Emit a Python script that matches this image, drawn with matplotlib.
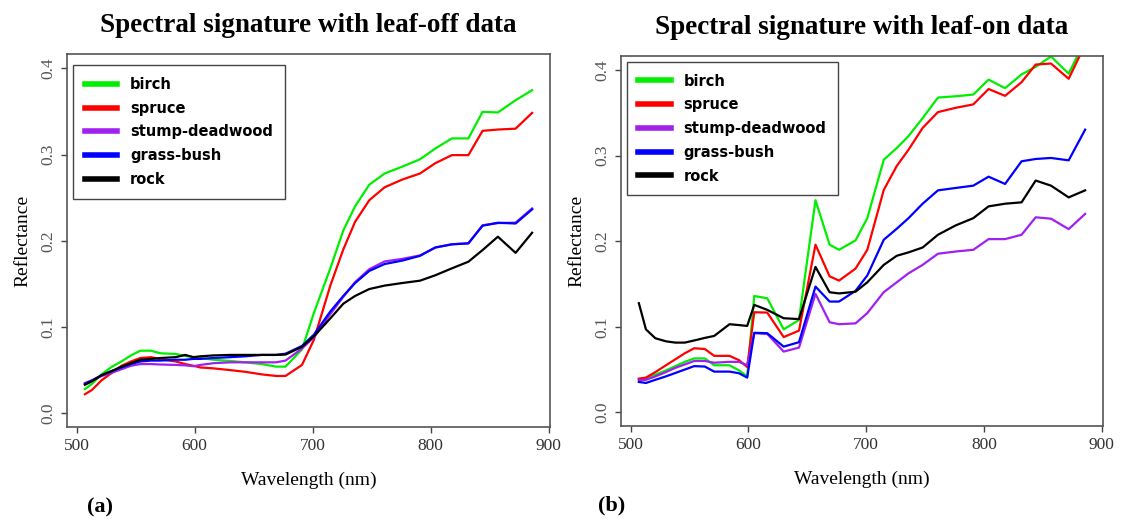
import matplotlib
matplotlib.use("Agg")
import matplotlib.pyplot as plt
import numpy as np

# band centres (nm), shared by both panels
wavelength = [507, 513, 521, 530, 538, 546, 554, 563, 571, 584, 592, 599, 605, 616,
              630, 643, 657, 669, 677, 691, 701, 715, 726, 736, 748, 761, 776, 791,
              804, 818, 832, 844, 857, 872, 886]

classes = ["birch", "spruce", "stump-deadwood", "grass-bush", "rock"]
colors = ["#00ee00", "#ff0000", "#a020f0", "#0000ff", "#000000"]

# (a) leaf-off
off_birch = [0.028, 0.034, 0.045, 0.054, 0.060, 0.067, 0.0725, 0.0725, 0.0695, 0.0687, 0.0664, 0.065,
             0.064, 0.062, 0.0606, 0.059, 0.057, 0.054, 0.054, 0.074, 0.116, 0.168, 0.212, 0.240,
             0.265, 0.278, 0.286, 0.2945, 0.307, 0.3187, 0.3187, 0.3495, 0.3488, 0.363, 0.3746]
off_spruce = [0.022, 0.027, 0.038, 0.047, 0.055, 0.060, 0.064, 0.065, 0.0626, 0.060, 0.057, 0.055,
              0.053, 0.052, 0.050, 0.048, 0.045, 0.0432, 0.0432, 0.056, 0.085, 0.148, 0.190, 0.222,
              0.247, 0.262, 0.271, 0.278, 0.290, 0.2993, 0.2993, 0.3275, 0.329, 0.330, 0.3483]
off_stump = [0.035, 0.038, 0.043, 0.047, 0.051, 0.055, 0.057, 0.057, 0.0565, 0.056, 0.0555, 0.0545,
             0.056, 0.058, 0.059, 0.059, 0.059, 0.059, 0.061, 0.075, 0.088, 0.115, 0.135, 0.152,
             0.167, 0.176, 0.179, 0.183, 0.192, 0.196, 0.197, 0.218, 0.2205, 0.221, 0.2375]
off_grass = [0.034, 0.038, 0.044, 0.049, 0.053, 0.057, 0.060, 0.061, 0.061, 0.062, 0.062, 0.063,
             0.063, 0.064, 0.065, 0.066, 0.0676, 0.0676, 0.069, 0.078, 0.091, 0.118, 0.136, 0.151,
             0.165, 0.173, 0.177, 0.1825, 0.1923, 0.1958, 0.197, 0.2174, 0.2209, 0.220, 0.2364]
off_rock = [0.033, 0.037, 0.044, 0.049, 0.054, 0.058, 0.062, 0.063, 0.064, 0.065, 0.0676, 0.065,
            0.066, 0.067, 0.0676, 0.0676, 0.0676, 0.0676, 0.068, 0.077, 0.089, 0.110, 0.127, 0.136,
            0.144, 0.148, 0.151, 0.1537, 0.160, 0.168, 0.1757, 0.1892, 0.2047, 0.186, 0.2093]

# (b) leaf-on
on_birch = [0.0386, 0.040, 0.044, 0.049, 0.054, 0.059, 0.063, 0.063, 0.055, 0.055, 0.049, 0.042,
            0.136, 0.1334, 0.097, 0.108, 0.248, 0.196, 0.190, 0.201, 0.227, 0.2954, 0.309, 0.323,
            0.344, 0.368, 0.3695, 0.3715, 0.389, 0.379, 0.395, 0.404, 0.416, 0.396, 0.435]
on_spruce = [0.0394, 0.0406, 0.047, 0.055, 0.062, 0.069, 0.0749, 0.074, 0.066, 0.066, 0.061, 0.053,
             0.117, 0.1166, 0.088, 0.0955, 0.196, 0.159, 0.154, 0.168, 0.190, 0.260, 0.288, 0.307,
             0.3325, 0.351, 0.356, 0.360, 0.378, 0.370, 0.386, 0.4066, 0.4078, 0.390, 0.43]
on_stump = [0.0375, 0.038, 0.042, 0.047, 0.052, 0.056, 0.060, 0.060, 0.058, 0.059, 0.059, 0.055,
            0.0925, 0.0917, 0.071, 0.0757, 0.1385, 0.1053, 0.103, 0.104, 0.116, 0.1405, 0.152, 0.1625,
            0.1724, 0.1854, 0.188, 0.190, 0.2025, 0.2025, 0.2076, 0.228, 0.2264, 0.2142, 0.232]
on_grass = [0.0355, 0.0343, 0.038, 0.042, 0.046, 0.050, 0.054, 0.0535, 0.0476, 0.0476, 0.0457, 0.0406,
            0.093, 0.0925, 0.0768, 0.082, 0.147, 0.1295, 0.1295, 0.142, 0.160, 0.2018, 0.2146, 0.227,
            0.2439, 0.2595, 0.2623, 0.265, 0.2755, 0.267, 0.2935, 0.2962, 0.2974, 0.2946, 0.3305]
on_rock = [0.1276, 0.097, 0.0866, 0.083, 0.0815, 0.0815, 0.084, 0.087, 0.0893, 0.103, 0.102, 0.101,
           0.1256, 0.1198, 0.110, 0.109, 0.170, 0.1404, 0.139, 0.141, 0.152, 0.1724, 0.183, 0.187,
           0.1927, 0.2076, 0.2185, 0.227, 0.2408, 0.2439, 0.2455, 0.271, 0.265, 0.2513, 0.2595]

xticks = [500, 600, 700, 800, 900]
yticks = [0.0, 0.1, 0.2, 0.3, 0.4]

serif = ["Liberation Serif", "DejaVu Serif"]


def draw_panel(ax, series, title, tag, tag_x, leg_anchor):
    for vals, name, c in zip(series, classes, colors):
        ax.plot(wavelength, vals, color=c, lw=1.6, label=name)
    # R style 4% padding
    xr = max(wavelength) - min(wavelength)
    ax.set_xlim(min(wavelength) - 0.04 * xr, max(wavelength) + 0.04 * xr)
    ax.set_ylim(-0.016, 0.4166)
    ax.set_xticks(xticks)
    ax.set_yticks(yticks)
    ax.set_xticklabels([str(t) for t in xticks], family=serif, fontsize=12.5, color="#333333")
    ax.set_yticklabels(["%.1f" % t for t in yticks], family=serif, fontsize=12.5,
                       color="#555555", rotation=90, va="center")
    ax.tick_params(axis="both", direction="out", length=4, width=1, color="#444444", pad=4)
    for s in ax.spines.values():
        s.set_color("#555555")
        s.set_linewidth(1.2)
    ax.set_xlabel("Wavelength (nm)", family=serif, fontsize=14, labelpad=13)
    ax.set_ylabel("Reflectance", family=serif, fontsize=14, labelpad=6)
    ax.set_title(title, family=serif, fontsize=19.5, fontweight="bold", pad=16)
    leg = ax.legend(loc="upper left", bbox_to_anchor=leg_anchor, borderaxespad=0,
                    fancybox=False, framealpha=1, edgecolor="#444444",
                    prop={"family": "DejaVu Sans", "weight": "bold", "size": 10.5},
                    handlelength=2.2, handletextpad=0.9, labelspacing=0.6,
                    borderpad=0.8)
    leg.get_frame().set_linewidth(1.0)
    for h in leg.get_lines():
        h.set_linewidth(4)
    ax.text(tag_x, -0.215, tag, transform=ax.transAxes, family=serif, fontsize=16,
            fontweight="bold", ha="center", va="center")


fig = plt.figure(figsize=(11.23, 5.22), dpi=100)
ax1 = fig.add_axes([67 / 1123, 1 - 427 / 522, 483 / 1123, 373 / 522])
ax2 = fig.add_axes([621 / 1123, 1 - 426 / 522, 482 / 1123, 370 / 522])

draw_panel(ax1, [off_birch, off_spruce, off_stump, off_grass, off_rock],
           "Spectral signature with leaf-off data", "(a)", 0.068, (0.013, 0.97))
draw_panel(ax2, [on_birch, on_spruce, on_stump, on_grass, on_rock],
           "Spectral signature with leaf-on data", "(b)", -0.019, (0.012, 0.984))

fig.savefig("out.png", dpi=100)
